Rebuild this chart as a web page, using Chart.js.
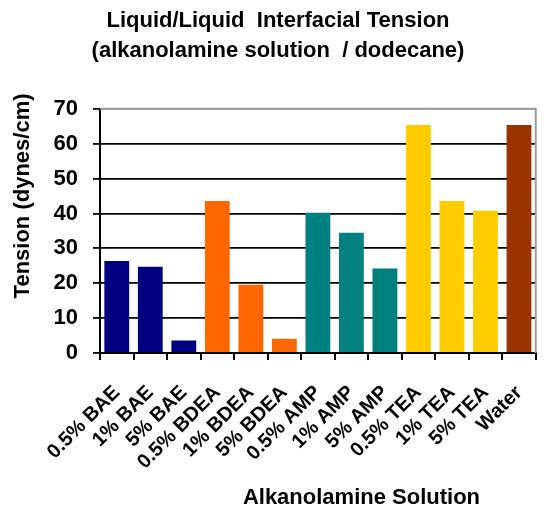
<!DOCTYPE html>
<html>
<head>
<meta charset="utf-8">
<script src="https://cdn.jsdelivr.net/npm/chart.js@4/dist/chart.umd.min.js"></script>
<style>
  html, body { margin: 0; padding: 0; background: #fff; }
  #wrap { width: 557px; height: 508px; }
</style>
</head>
<body>
<div id="wrap"><canvas id="c" width="557" height="508"></canvas></div>
<script>
// Interfacial tension of each solution against dodecane (dynes/cm)
const categories = ['0.5% BAE', '1% BAE', '5% BAE', '0.5% BDEA', '1% BDEA', '5% BDEA',
                    '0.5% AMP', '1% AMP', '5% AMP', '0.5% TEA', '1% TEA', '5% TEA', 'Water'];
const tension = [26.4, 24.7, 3.6, 43.6, 19.6, 4.1, 40.2, 34.5, 24.2, 65.4, 43.6, 40.8, 65.4];
const yTicks = [0, 10, 20, 30, 40, 50, 60, 70];

// one colour per amine family
const familyColors = { BAE: '#000080', BDEA: '#FF6600', AMP: '#008080', TEA: '#FFCC00', Water: '#993300' };
const barColors = categories.map(c => familyColors[c.split(' ').pop()]);

const FONT = '"Liberation Sans", Arial, sans-serif';

// axis titles placed off-centre, and the grey frame on top/right
const extras = {
  id: 'extras',
  beforeDatasetsDraw(chart) {
    const { ctx, chartArea: a } = chart;
    ctx.save();
    ctx.strokeStyle = '#9a9a9a';
    ctx.lineWidth = 2;
    ctx.beginPath();
    ctx.moveTo(a.left, a.top);
    ctx.lineTo(a.right, a.top);
    ctx.lineTo(a.right, a.bottom);
    ctx.stroke();
    ctx.restore();
  },
  afterDraw(chart) {
    const { ctx, chartArea: a } = chart;
    ctx.save();
    ctx.fillStyle = '#000';
    ctx.font = 'bold 22px ' + FONT;
    ctx.textAlign = 'center';
    ctx.textBaseline = 'middle';
    ctx.fillText('Alkanolamine Solution', a.left + (a.right - a.left) * 0.6, chart.height - 10);
    ctx.translate(23, (a.top + a.bottom) / 2 - 35);
    ctx.rotate(-Math.PI / 2);
    ctx.fillText('Tension (dynes/cm)', 0, 0);
    ctx.restore();
  }
};

new Chart(document.getElementById('c'), {
  type: 'bar',
  data: {
    labels: categories,
    datasets: [{
      data: tension,
      backgroundColor: barColors,
      borderWidth: 0,
      categoryPercentage: 1.0,
      barPercentage: 0.74
    }]
  },
  options: {
    responsive: false,
    animation: false,
    layout: { padding: { left: 0, right: 1, top: 0, bottom: 0 } },
    plugins: {
      legend: { display: false },
      tooltip: { enabled: false },
      title: {
        display: true,
        text: ['Liquid/Liquid  Interfacial Tension', '(alkanolamine solution  / dodecane)'],
        color: '#000',
        font: { family: FONT, size: 22, weight: 'bold', lineHeight: 1.36 },
        padding: { top: 6, bottom: 43 }
      }
    },
    scales: {
      x: {
        afterFit(scale) { scale.height = 155; },
        grid: {
          offset: true,
          drawOnChartArea: false,
          drawTicks: true,
          tickLength: 7,
          color: '#000',
          lineWidth: 2
        },
        border: { display: true, color: '#000', width: 2 },
        ticks: {
          color: '#000',
          font: { family: FONT, size: 20, weight: 'bold' },
          minRotation: 45,
          maxRotation: 45,
          autoSkip: false,
          padding: 21
        }
      },
      y: {
        min: 0,
        max: 70,
        afterFit(scale) { scale.width = 100; },
        afterBuildTicks(scale) { scale.ticks = yTicks.map(v => ({ value: v })); },
        grid: {
          color: ctx => (ctx.tick && ctx.tick.value === 70 ? '#9a9a9a' : '#000'),
          lineWidth: 1.8,
          drawTicks: true,
          tickLength: 7,
          tickColor: '#000'
        },
        border: { display: true, color: '#000', width: 2 },
        ticks: {
          color: '#000',
          font: { family: FONT, size: 22, weight: 'bold' },
          padding: 15
        }
      }
    }
  },
  plugins: [extras]
});
</script>
</body>
</html>
